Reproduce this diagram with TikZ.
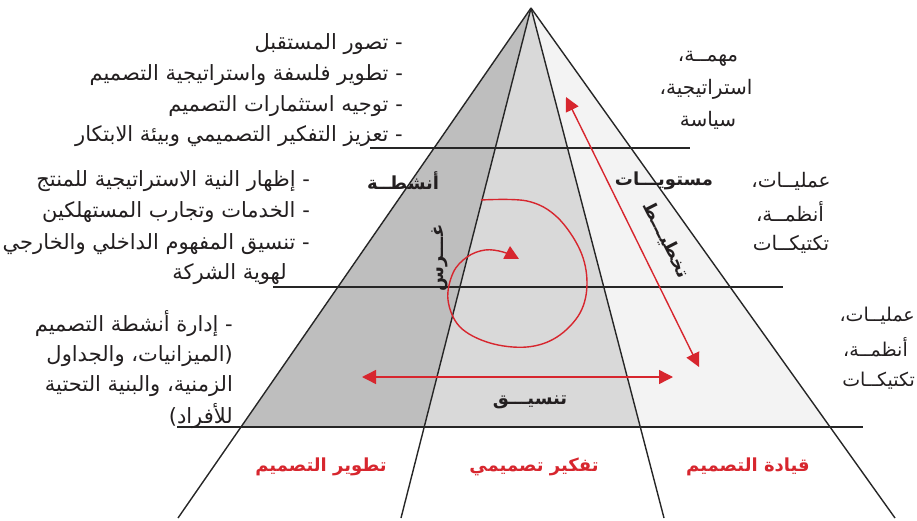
\documentclass[tikz,border=0pt]{standalone}
\usepackage{fontspec}
\setmainfont{DejaVu Sans}
\newfontfamily\arfont[Script=Arabic]{DejaVu Sans}
\TeXXeTstate=1
\usetikzlibrary{arrows.meta}
\definecolor{facel}{HTML}{BEBEBE}
\definecolor{facec}{HTML}{D9D9D9}
\definecolor{facer}{HTML}{F3F3F3}
\definecolor{edge}{HTML}{262626}
\definecolor{myred}{HTML}{D7262E}
\definecolor{txt}{HTML}{231F20}
\newcommand\artxt[1]{{\arfont\beginR #1\endR}}
\tikzset{
  redtip/.tip={Triangle[length=14pt,width=14pt]},
  edgeline/.style={draw=edge, line width=1.4pt},
  hline/.style={draw=edge, line width=1.3pt},
  redarr/.style={draw=myred, line width=1.4pt},
  ltext/.style={anchor=east, inner sep=0pt, text=txt, font=\fontsize{21}{24}\selectfont},
  ctext/.style={anchor=center, inner sep=0pt, text=txt, font=\fontsize{20}{24}\selectfont},
  etext/.style={anchor=east, inner sep=0pt, text=txt, font=\fontsize{19}{24}\selectfont},
  btext/.style={anchor=center, inner sep=0pt, text=txt, font=\fontsize{18}{22}\selectfont\bfseries},
  rtext/.style={anchor=center, inner sep=0pt, text=myred, font=\fontsize{18}{22}\selectfont\bfseries},
}
\begin{document}
\begin{tikzpicture}[x=1pt,y=-1pt]
\useasboundingbox (0,0) rectangle (917,521);
% key points
\coordinate (A) at (531,8);
\coordinate (L0) at (241,427);
\coordinate (L1) at (424,427);
\coordinate (R1) at (640,427);
\coordinate (R0) at (830,427);
\coordinate (LB0) at (178,518);
\coordinate (LB1) at (401,518);
\coordinate (RB1) at (664,518);
\coordinate (RB0) at (895,518);
% faces
\fill[facel] (A) -- (L0) -- (L1) -- cycle;
\fill[facec] (A) -- (L1) -- (R1) -- cycle;
\fill[facer] (A) -- (R1) -- (R0) -- cycle;
% horizontal lines
\coordinate (h1a) at (370,148); \coordinate (h1b) at (690,148);
\coordinate (h2a) at (273,287); \coordinate (h2b) at (783,287);
\coordinate (h3a) at (177,427); \coordinate (h3b) at (863,427);
\draw[hline] (h1a) -- (h1b);
\draw[hline] (h2a) -- (h2b);
\draw[hline] (h3a) -- (h3b);
% edges
\draw[edgeline] (A) -- (LB0);
\draw[edgeline] (A) -- (LB1);
\draw[edgeline] (A) -- (RB1);
\draw[edgeline] (A) -- (RB0);
% red arrows
\coordinate (hl) at (362,377); \coordinate (hr) at (673,377);
\draw[redarr, redtip-redtip, myred] (hl) -- (hr);
\coordinate (dt) at (566,97); \coordinate (db) at (699,367);
\draw[redarr, redtip-redtip, myred] (dt) -- (db);
\draw[redarr, -redtip, myred] plot[smooth, tension=0.6] coordinates {(481,200) (527,201) (557,217) (580,250) (587,283) (580,313) (557,337) (527,347) (490,343) (460,327) (448,300) (453,273) (467,257) (485,250) (503,252) (519,259)};
% left text blocks
\node[ltext] (t1) at (403,44) {\artxt{- تصور المستقبل}};
\node[ltext] (t2) at (403,75) {\artxt{- تطوير فلسفة واستراتيجية التصميم}};
\node[ltext] (t3) at (403,106) {\artxt{- توجيه استثمارات التصميم}};
\node[ltext] (t4) at (403,136) {\artxt{- تعزيز التفكير التصميمي وبيئة الابتكار}};
\node[ltext] (m1) at (310,181) {\artxt{- إظهار النية الاستراتيجية للمنتج}};
\node[ltext] (m2) at (310,212) {\artxt{- الخدمات وتجارب المستهلكين}};
\node[ltext] (m3) at (310,244) {\artxt{- تنسيق المفهوم الداخلي والخارجي}};
\node[ltext] (m4) at (287,274) {\artxt{لهوية الشركة}};
\node[ltext] (b1) at (233,324) {\artxt{- إدارة أنشطة التصميم}};
\node[ltext] (b2) at (233,356) {\artxt{(الميزانيات، والجداول}};
\node[ltext] (b3) at (233,386) {\artxt{الزمنية، والبنية التحتية}};
\node[ltext] (b4) at (233,416) {\artxt{للأفراد)}};
% right text blocks
\node[ctext] (r1) at (708,59) {\artxt{مهمــة،}};
\node[ctext] (r2) at (706,89) {\artxt{استراتيجية،}};
\node[ctext] (r3) at (708,120) {\artxt{سياسة}};
\node[ctext] (s1) at (791,181) {\artxt{عمليــات،}};
\node[ctext] (s2) at (790,212) {\artxt{أنظمــة،}};
\node[ctext] (s3) at (791,244) {\artxt{تكتيكــات}};
\node[etext] (u1) at (915,316) {\artxt{عمليــات،}};
\node[etext] (u2) at (908,347) {\artxt{أنظمــة،}};
\node[etext] (u3) at (915,381) {\artxt{تكتيكــات}};
% bold labels
\node[btext] (lab1) at (403,181) {\artxt{أنشطــة}};
\node[btext] (lab2) at (664,181) {\artxt{مستويـــات}};
\node[btext] (lab3) at (530,402) {\artxt{تنسيـــق}};
\node[btext, rotate=90] (lab4) at (440,258) {\artxt{غـــرس}};
\node[btext, rotate=-63] (lab5) at (666,240) {\artxt{تخطيـــط}};
% red bottom labels
\node[rtext] (f1) at (321,467) {\artxt{تطوير التصميم}};
\node[rtext] (f2) at (534,467) {\artxt{تفكير تصميمي}};
\node[rtext] (f3) at (748,467) {\artxt{قيادة التصميم}};
\end{tikzpicture}
\end{document}
